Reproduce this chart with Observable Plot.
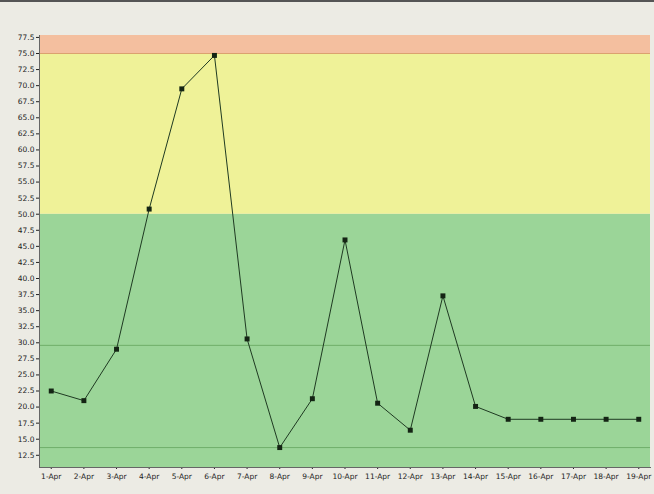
<!DOCTYPE html>
<html><head><meta charset="utf-8">
<script src="https://cdn.jsdelivr.net/npm/d3@7"></script>
<script src="https://cdn.jsdelivr.net/npm/@observablehq/plot@0.6"></script>
<style>
html,body{margin:0;padding:0;background:#ecebe4;}
#wrap{width:654px;height:494px;position:relative;overflow:hidden;border-top:2px solid #555;box-sizing:border-box;}
</style>
</head><body><div id="wrap"></div>
<script>
const dates = ["1-Apr","2-Apr","3-Apr","4-Apr","5-Apr","6-Apr","7-Apr","8-Apr","9-Apr","10-Apr","11-Apr","12-Apr","13-Apr","14-Apr","15-Apr","16-Apr","17-Apr","18-Apr","19-Apr"];
const values = [22.5,21.0,29.0,50.8,69.5,74.7,30.6,13.7,21.3,46.0,20.6,16.4,37.3,20.1,18.1,18.1,18.1,18.1,18.1];
const bandLow = [10.6, 50, 75];
const bandHigh = [50, 75, 77.8];
const bandColors = ["#9bd598", "#eff298", "#f4bf9f"];
const refLines = [29.6, 13.7];
const yTicks = d3.range(12.5, 77.6, 2.5);

const data = dates.map((d, i) => ({date: d, value: values[i]}));
const bands = bandLow.map((lo, i) => ({lo, hi: bandHigh[i], color: bandColors[i]}));

const chart = Plot.plot({
  width: 654,
  height: 490,
  marginLeft: 39,
  marginRight: 4,
  marginTop: 33,
  marginBottom: 25,
  style: {background: "transparent", fontFamily: "DejaVu Sans, sans-serif", fontSize: "7.5px", color: "#222"},
  x: {type: "point", domain: dates, padding: 0.36, round: false, label: null},
  y: {domain: [10.6, 77.8], label: null},
  marks: [
    Plot.rect(bands, {y1: "lo", y2: "hi", fill: "color"}),
    Plot.ruleY([75], {stroke: "#dba26f", strokeWidth: 1}),
    Plot.ruleY(refLines, {stroke: "#6fae6a", strokeWidth: 1}),
    Plot.axisX({tickSize: 2, tickPadding: 4, fontSize: 7.5}),
    Plot.axisY({ticks: yTicks, tickFormat: d => d.toFixed(1), tickSize: 3, tickPadding: 2, fontSize: 7.5}),
    Plot.frame({anchor: "left", stroke: "#666"}),
    Plot.frame({anchor: "bottom", stroke: "#666"}),
    Plot.line(data, {x: "date", y: "value", stroke: "#1f3a22", strokeWidth: 1}),
    Plot.dot(data, {x: "date", y: "value", symbol: "square", r: 2.8, fill: "#142414", stroke: "none"})
  ]
});
document.getElementById("wrap").appendChild(chart);
</script>
</body></html>
